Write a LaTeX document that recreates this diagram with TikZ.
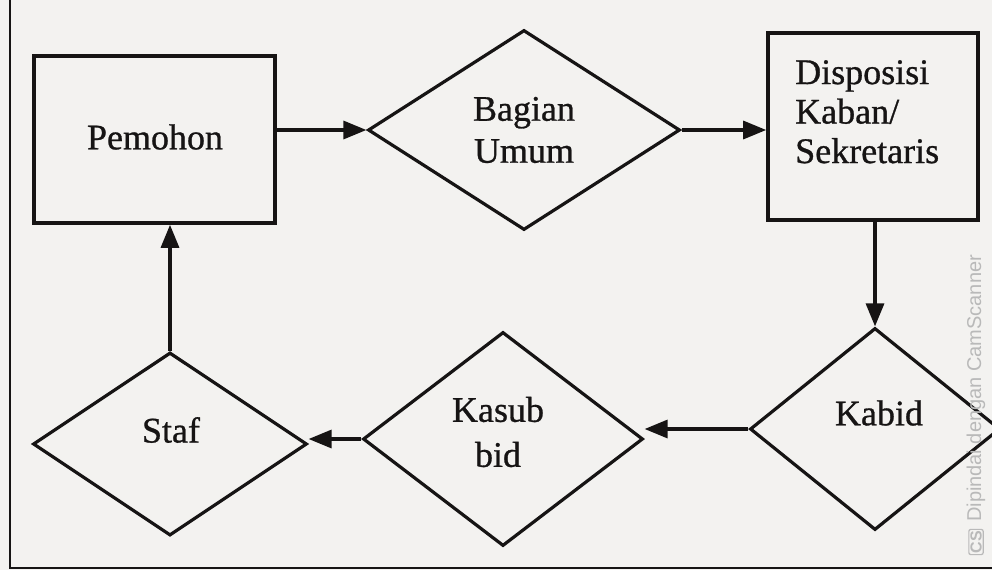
\documentclass[tikz,border=0pt]{standalone}
\usepackage{fontspec}
\setmainfont{Liberation Serif}[FakeBold=0.8]
\newfontfamily\wmfont{Liberation Sans}
\usetikzlibrary{shapes.geometric,arrows.meta}
\definecolor{ink}{RGB}{22,20,20}
\definecolor{paper}{RGB}{243,242,240}
\definecolor{wm}{RGB}{185,185,185}
\begin{document}
\begin{tikzpicture}[x=1pt,y=-1pt,
  boxst/.style={draw=ink, line width=3.6pt, rectangle, inner sep=0pt},
  dia/.style={draw=ink, line width=3.2pt, diamond, inner sep=0pt},
  lbl/.style={font=\fontsize{36}{42}\selectfont, text=ink, align=center, inner sep=0pt},
  flow/.style={draw=ink, line width=3.2pt, -{Triangle[length=23pt,width=18pt]}}]
\fill[paper] (0,0) rectangle (992,570);
\useasboundingbox (0,0) rectangle (992,570);
% frame
\draw[ink, line width=2.5pt] (10,0) -- (10,568) -- (992,568);
% nodes
\node[boxst, minimum width=241pt, minimum height=167pt] (pemohon) at (154.5,139.5) {};
\node[lbl] (tpemohon) at (155,137) {Pemohon};
\node[dia, minimum width=312pt, minimum height=200pt] (bagian) at (524,130) {};
\node[lbl] (tbagian) at (524,130) {Bagian\\Umum};
\node[boxst, minimum width=210pt, minimum height=187pt] (dispo) at (873,126.5) {};
\node[lbl, align=left, anchor=north west, font=\fontsize{36}{39.5}\selectfont] (tdispo) at (795,60) {Disposisi\\Kaban/\\Sekretaris};
\node[dia, minimum width=250pt, minimum height=202pt] (kabid) at (875,429) {};
\node[lbl] (tkabid) at (879,413) {Kabid};
\node[dia, minimum width=280pt, minimum height=214pt] (kasub) at (503,439) {};
\node[lbl, font=\fontsize{36}{45}\selectfont] (tkasub) at (498,432) {Kasub\\bid};
\node[dia, minimum width=274pt, minimum height=183pt] (staf) at (170,444) {};
\node[lbl] (tstaf) at (171,430) {Staf};
% connectors
\draw[flow] (pemohon.east |- bagian.west) -- (bagian.west);
\draw[flow] (bagian.east) -- (bagian.east -| dispo.west);
\draw[flow] (kabid.north |- dispo.south) -- (kabid.north);
\draw[flow] (kabid.west) -- (kabid.west -| kasub.east);
\draw[flow] (kasub.west) -- (kasub.west -| staf.east);
\draw[flow] (staf.north) -- (staf.north |- pemohon.south);
% scanner watermark
\node[wm, draw=wm, line width=1.2pt, rounded corners=2pt, inner sep=1.5pt, rotate=90, font=\wmfont\fontsize{16}{16}\selectfont\bfseries] (cs) at (976,542) {CS};
\node[text=wm, rotate=90, anchor=west, font=\wmfont\fontsize{20}{20}\selectfont, inner sep=0pt] (wmtext) at (976,522) {Dipindai dengan CamScanner};
\end{tikzpicture}
\end{document}
